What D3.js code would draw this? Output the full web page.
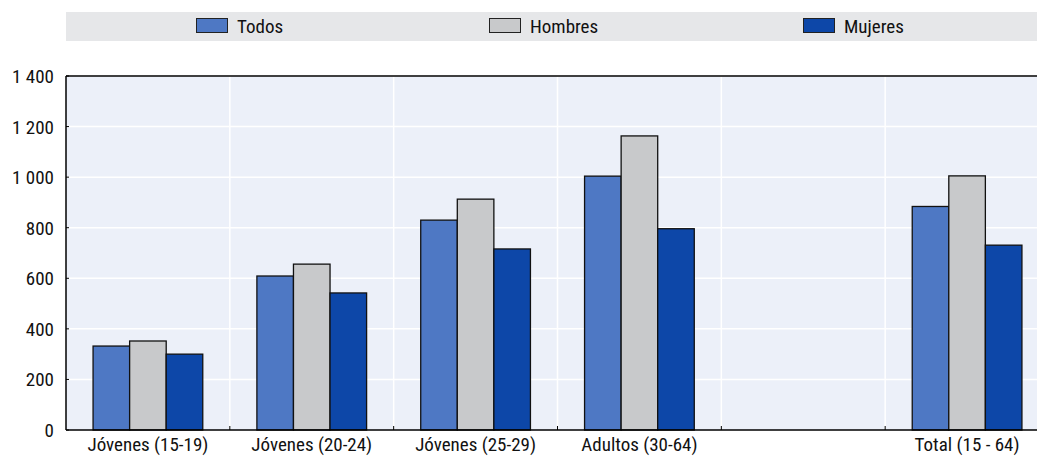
<!DOCTYPE html>
<html><head><meta charset="utf-8">
<script src="https://cdn.jsdelivr.net/npm/d3@7"></script>
<style>body{margin:0;background:#fff}svg{display:block}text{font-family:"Liberation Sans Narrow","Arial Narrow","Roboto Condensed","Liberation Sans",sans-serif}</style>
</head><body><svg id="c" width="1037" height="457"></svg>
<script>
const categories = ["Jóvenes (15-19)","Jóvenes (20-24)","Jóvenes (25-29)","Adultos (30-64)","","Total (15 - 64)"];
const seriesNames = ["Todos","Hombres","Mujeres"];
const todos   = [332, 609, 830, 1004, null, 884];
const hombres = [352, 656, 913, 1163, null, 1005];
const mujeres = [300, 542, 716, 796, null, 731];
const yTicks = [0,200,400,600,800,1000,1200,1400];
const colors = ["#4e78c4","#c8c9cb","#0d47a8"];

const svg = d3.select("#c");
const m = {l:66, r:1049, t:76, b:430};
const x = d3.scaleBand().domain(d3.range(categories.length)).range([m.l, m.r]);
const y = d3.scaleLinear().domain([0,1400]).range([m.b, m.t]);
const xs = d3.scaleBand().domain(seriesNames).range([0, x.bandwidth()]).paddingInner(0).paddingOuter(0.74);
const fmt = v => d3.format(",")(v).replace(/,/g," ");
const FS = 19;

// legend band
svg.append("rect").attr("x",66).attr("y",12).attr("width",1000).attr("height",29).attr("fill","#e6e7e9");
const legX = [196, 489, 803];
seriesNames.forEach((s,i)=>{
  svg.append("rect").attr("x",legX[i]+0.5).attr("y",18.5).attr("width",31).attr("height",14)
    .attr("fill",colors[i]).attr("stroke","#222").attr("stroke-width",1);
  svg.append("text").attr("x",legX[i]+41).attr("y",33).attr("font-size",FS).attr("fill","#111").text(s);
});

// plot bg
svg.append("rect").attr("x",m.l).attr("y",m.t).attr("width",m.r-m.l).attr("height",m.b-m.t).attr("fill","#ecf0f9");
// grid
svg.append("g").selectAll("line").data(yTicks.slice(1)).join("line")
  .attr("x1",m.l).attr("x2",m.r).attr("y1",d=>y(d)).attr("y2",d=>y(d)).attr("stroke","#fff").attr("stroke-width",1.5);
svg.append("g").selectAll("line").data(d3.range(1,categories.length)).join("line")
  .attr("x1",d=>x(d)).attr("x2",d=>x(d)).attr("y1",m.t).attr("y2",m.b).attr("stroke","#fff").attr("stroke-width",1.5);

// bars
const series = [todos, hombres, mujeres];
series.forEach((vals,si)=>{
  svg.append("g").selectAll("rect").data(vals.map((v,i)=>({v,i})).filter(d=>d.v!=null)).join("rect")
    .attr("x",d=>x(d.i)+xs(seriesNames[si]))
    .attr("y",d=>y(d.v))
    .attr("width",xs.bandwidth())
    .attr("height",d=>y(0)-y(d.v))
    .attr("fill",colors[si]).attr("stroke","#111").attr("stroke-width",1.3);
});

// axes lines
svg.append("line").attr("x1",m.l).attr("x2",m.r).attr("y1",m.t).attr("y2",m.t).attr("stroke","#000").attr("stroke-width",1.5);
svg.append("line").attr("x1",m.l).attr("x2",m.l).attr("y1",m.t).attr("y2",m.b).attr("stroke","#000").attr("stroke-width",1.5);
svg.append("line").attr("x1",m.l).attr("x2",m.r).attr("y1",m.b).attr("y2",m.b).attr("stroke","#000").attr("stroke-width",1.5);
// small ticks at boundaries
svg.append("g").selectAll("line").data(d3.range(1,categories.length)).join("line")
  .attr("x1",d=>x(d)).attr("x2",d=>x(d)).attr("y1",m.b).attr("y2",m.b-4).attr("stroke","#000").attr("stroke-width",1);
svg.append("g").selectAll("line").data(yTicks).join("line")
  .attr("x1",m.l).attr("x2",m.l+3).attr("y1",d=>y(d)).attr("y2",d=>y(d)).attr("stroke","#000");

// y labels
svg.append("g").selectAll("text").data(yTicks).join("text")
  .attr("x",54).attr("y",d=>y(d)+7).attr("text-anchor","end").attr("font-size",FS).attr("fill","#111").text(fmt);
// x labels
svg.append("g").selectAll("text").data(categories).join("text")
  .attr("x",(d,i)=>x(i)+x.bandwidth()/2).attr("y",451).attr("text-anchor","middle").attr("font-size",FS).attr("fill","#111").text(d=>d);
</script></body></html>
